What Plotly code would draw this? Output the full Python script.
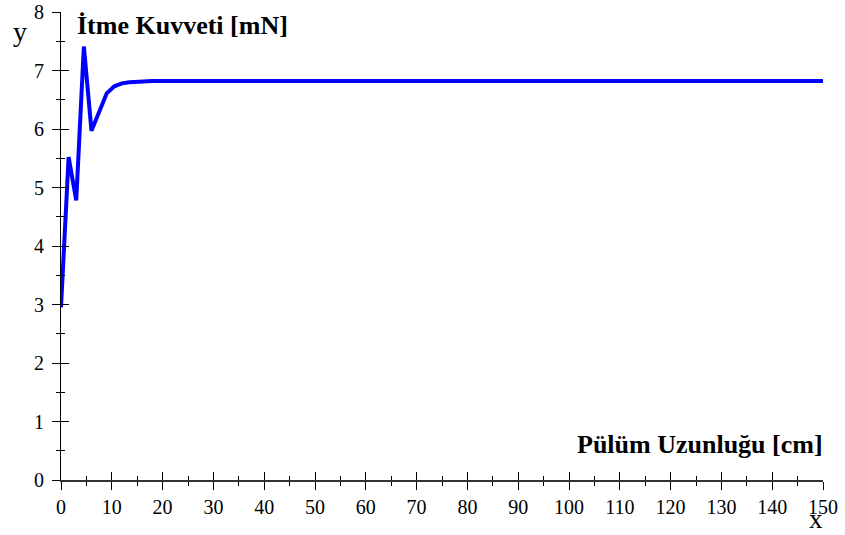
import plotly.graph_objects as go

# Thrust force versus pendulum length
length_cm = [0, 1.5, 3, 4.5, 6, 7.5, 9, 10.5, 12, 13.5, 15, 16.5, 18, 19.5, 21, 150]
thrust_mN = [2.95, 5.52, 4.78, 7.41, 5.97, 6.31, 6.61, 6.73, 6.78, 6.80, 6.81, 6.815, 6.82, 6.82, 6.82, 6.82]

x_range = [0, 150]
y_range = [0, 8]
x_major, x_minor = 10, 5
y_major, y_minor = 1, 0.5

serif = "Liberation Serif, Times New Roman, serif"
tick_font = dict(family=serif, size=20, color="black")

fig = go.Figure()
fig.add_trace(go.Scatter(
    x=length_cm, y=thrust_mN, mode="lines",
    line=dict(color="#0000ff", width=4),
    showlegend=False, hoverinfo="skip",
))
# empty trace so the overlay axes (inner half of the crossing ticks) are drawn
fig.add_trace(go.Scatter(x=[], y=[], xaxis="x2", yaxis="y2", showlegend=False))

common = dict(showgrid=False, zeroline=False, tickcolor="black", tickwidth=1,
              automargin=False)

fig.update_layout(
    width=845, height=535,
    margin=dict(l=61, r=22, t=12, b=55, autoexpand=False),
    paper_bgcolor="white", plot_bgcolor="white",
    xaxis=dict(range=x_range, tick0=0, dtick=x_major, ticks="outside", ticklen=8,
               minor=dict(ticks="outside", ticklen=4, dtick=x_minor, tickcolor="black"),
               showline=True, linecolor="#333333", linewidth=1.5,
               tickfont=tick_font, **common),
    yaxis=dict(range=y_range, tick0=0, dtick=y_major, ticks="outside", ticklen=8,
               minor=dict(ticks="outside", ticklen=4, dtick=y_minor, tickcolor="black"),
               showline=True, linecolor="black", linewidth=1,
               tickfont=tick_font, ticklabelstandoff=4, **common),
    xaxis2=dict(range=x_range, overlaying="x", anchor="y2", side="bottom",
                tick0=0, dtick=x_major, ticks="inside", ticklen=8,
                minor=dict(ticks="inside", ticklen=4, dtick=x_minor, tickcolor="black"),
                showticklabels=False, showline=False, **common),
    yaxis2=dict(range=y_range, overlaying="y", anchor="x2", side="left",
                tick0=0, dtick=y_major, ticks="inside", ticklen=8,
                minor=dict(ticks="inside", ticklen=4, dtick=y_minor, tickcolor="black"),
                showticklabels=False, showline=False, **common),
    annotations=[
        dict(text="y", xref="paper", yref="paper", x=-0.0538, y=0.958,
             xanchor="center", yanchor="middle", showarrow=False,
             font=dict(family=serif, size=28, color="black")),
        dict(text="x", xref="paper", yref="paper", x=0.9908, y=-0.1175,
             xanchor="center", yanchor="bottom", showarrow=False, borderpad=0,
             font=dict(family=serif, size=27, color="black")),
        dict(text="<b>İtme Kuvveti [mN]</b>", xref="paper", yref="paper",
             x=0.019, y=0.9718, xanchor="left", yanchor="middle", showarrow=False,
             font=dict(family=serif, size=26, color="black")),
        dict(text="<b>Pülüm Uzunluğu [cm]</b>", xref="paper", yref="paper",
             x=1.002, y=0.0765, xanchor="right", yanchor="middle", showarrow=False,
             font=dict(family=serif, size=26, color="black")),
    ],
)

fig.write_html("out.html")
